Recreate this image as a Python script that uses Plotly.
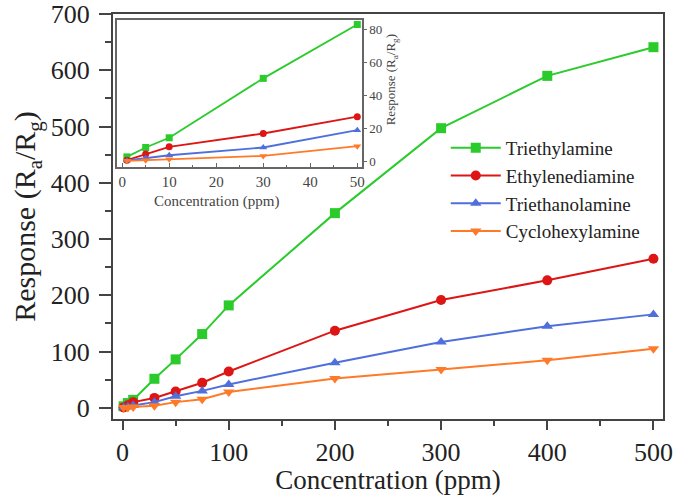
import plotly.graph_objects as go

# ---- data (main chart) ----
conc = [1, 5, 10, 30, 50, 75, 100, 200, 300, 400, 500]
triethylamine = [2.6, 8.3, 14, 51.5, 86, 131, 182, 346, 497, 590, 641]
ethylenediamine = [0.6, 4.3, 10, 17.5, 29, 44.5, 64.5, 137, 191.5, 226.5, 265]
triethanolamine = [0.5, 2, 4, 10, 20.5, 30, 41.5, 80, 117, 145, 166]
cyclohexylamine = [0.3, 0.6, 1.2, 3.5, 10, 15, 28, 52, 68, 84.5, 105]

# ---- data (inset, low concentration) ----
conc_low = [1, 5, 10, 30, 50]
tea_low = [2.6, 8.3, 14.2, 50.3, 83]
eda_low = [0.6, 4.3, 8.7, 16.8, 27]
tean_low = [0.4, 2.0, 3.6, 8.3, 18.8]
cha_low = [0.2, 0.6, 1.2, 3.2, 9.1]

names = ["Triethylamine", "Ethylenediamine", "Triethanolamine", "Cyclohexylamine"]
colors = ["#2BCB2B", "#DD1515", "#4F6FDD", "#FF7A28"]
symbols = ["square", "circle", "triangle-up", "triangle-down"]
main_series = [triethylamine, ethylenediamine, triethanolamine, cyclohexylamine]
low_series = [tea_low, eda_low, tean_low, cha_low]

FONT = "Liberation Serif"
fig = go.Figure()

for n, c, s, ys in zip(names, colors, symbols, main_series):
    fig.add_trace(go.Scatter(
        x=conc, y=ys, name=n, mode="lines+markers", legendgroup=n,
        line=dict(color=c, width=2),
        marker=dict(symbol=s, size=10, color=c),
        xaxis="x", yaxis="y"))

for n, c, s, ys in zip(names, colors, symbols, low_series):
    fig.add_trace(go.Scatter(
        x=conc_low, y=ys, name=n, mode="lines+markers", showlegend=False,
        line=dict(color=c, width=1.8),
        marker=dict(symbol=s, size=7, color=c),
        xaxis="x2", yaxis="y2"))

axis_col = "#444444"
fig.update_layout(
    width=675, height=495,
    margin=dict(l=113, r=12, t=14, b=76, autoexpand=False),
    paper_bgcolor="white", plot_bgcolor="white",
    font=dict(family=FONT, color="#222222"),
    showlegend=True,
    legend=dict(x=0.605, y=0.716, xanchor="left", yanchor="top", itemwidth=50,
                font=dict(family=FONT, size=19, color="#222222"),
                bgcolor="rgba(0,0,0,0)", traceorder="grouped", tracegroupgap=0),
    xaxis=dict(domain=[0, 1], range=[-9, 509], tickvals=[0, 100, 200, 300, 400, 500],
               automargin=False,
               ticks="outside", ticklen=9, tickwidth=1.5, tickcolor=axis_col,
               minor=dict(tickvals=[50, 150, 250, 350, 450], ticks="outside", ticklen=5, tickcolor=axis_col),
               showline=True, linecolor=axis_col, linewidth=2, mirror=True,
               showgrid=False, zeroline=False,
               tickfont=dict(size=26, family=FONT),
               title=dict(text="Concentration (ppm)", font=dict(size=27, family=FONT), standoff=1)),
    yaxis=dict(domain=[0, 1], range=[-20, 700], tickvals=[0, 100, 200, 300, 400, 500, 600, 700],
               automargin=False, ticklabelstandoff=4,
               ticks="outside", ticklen=12, tickwidth=1.5, tickcolor=axis_col,
               minor=dict(tickvals=[50, 150, 250, 350, 450, 550, 650], ticks="outside", ticklen=6, tickcolor=axis_col),
               showline=True, linecolor=axis_col, linewidth=2, mirror=True,
               showgrid=False, zeroline=False,
               tickfont=dict(size=26, family=FONT),
               title=dict(text="Response (R<sub>a</sub>/R<sub>g</sub>)", font=dict(size=30, family=FONT), standoff=6)),
    xaxis2=dict(domain=[0.0073, 0.4527], anchor="y2", range=[-1.1, 51],
                automargin=False,
                tickvals=[0, 10, 20, 30, 40, 50], ticks="inside", ticklen=4, tickcolor="#666",
                minor=dict(tickvals=[5, 15, 25, 35, 45], ticks="inside", ticklen=2, tickcolor="#666"),
                showline=True, linecolor="#666666", linewidth=1.5, mirror=True,
                showgrid=False, zeroline=False,
                tickfont=dict(size=15, family=FONT, color="#444")),
    yaxis2=dict(domain=[0.622, 0.985], anchor="x2", side="right", range=[-3.6, 85.7],
                automargin=False,
                tickvals=[0, 20, 40, 60, 80], ticks="outside", ticklen=3, tickcolor="#666",
                showline=True, linecolor="#666666", linewidth=1.5, mirror=True,
                showgrid=False, zeroline=False,
                tickfont=dict(size=13, family=FONT, color="#444")),
    annotations=[
        dict(text="Concentration (ppm)", xref="paper", yref="paper", x=0.189, y=0.537,
             xanchor="center", yanchor="middle", showarrow=False,
             font=dict(size=15, family=FONT, color="#444")),
        dict(text="Response (R<sub>a</sub>/R<sub>g</sub>)", xref="paper", yref="paper", x=0.506, y=0.837,
             xanchor="center", yanchor="middle", showarrow=False, textangle=-90,
             font=dict(size=13, family=FONT, color="#444")),
    ],
)

fig.write_html("out.html", config={"displayModeBar": False},
               post_script="document.body.style.margin='0';document.body.style.padding='0';")
